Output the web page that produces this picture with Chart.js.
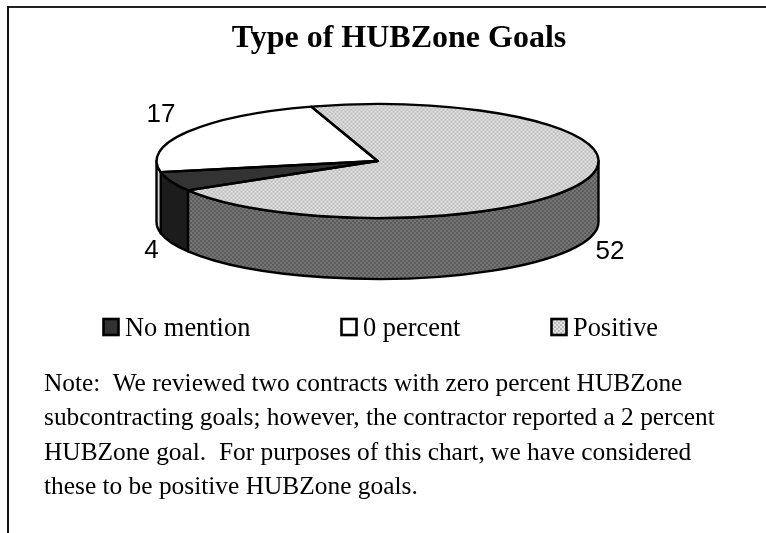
<!DOCTYPE html>
<html>
<head>
<meta charset="utf-8">
<title>Type of HUBZone Goals</title>
<script src="https://cdn.jsdelivr.net/npm/chart.js@4"></script>
<style>
  html, body { margin:0; padding:0; background:#fff; }
  body { width:766px; height:533px; position:relative; overflow:hidden; }
  #frameTop { position:absolute; left:7px; top:6px; right:0; height:2px; background:#222; }
  #frameLeft { position:absolute; left:7px; top:6px; bottom:0; width:2px; background:#111; }
  canvas { position:absolute; left:0; top:0; }
  #note { position:absolute; left:44px; top:365px; margin:0; color:#000;
          font:25.4px/34.4px "Liberation Serif", serif; white-space:pre; }
</style>
</head>
<body>
<canvas id="pie" width="766" height="533"></canvas>
<div id="frameTop"></div>
<div id="frameLeft"></div>
<p id="note"></p>
<script>
const titleText = 'Type of HUBZone Goals';
const categories = ['No mention', '0 percent', 'Positive'];
const values = [4, 17, 52];
const noteLines = [
  'Note:  We reviewed two contracts with zero percent HUBZone',
  'subcontracting goals; however, the contractor reported a 2 percent',
  'HUBZone goal.  For purposes of this chart, we have considered',
  'these to be positive HUBZone goals.'
];

document.getElementById('note').textContent = noteLines.join('\n');

// pie look
const rx = 221, ry = 57, cx = 377.5, cy = 161, depth = 61;
const squash = ry / rx;
const labelPos = [[151.5, 258], [161, 122], [610, 259]];
const legendPos = [102, 340, 550];
const legendBase = 336;

function dither(a, b, flatten){
  const c = document.createElement('canvas');
  c.width = c.height = 4;
  const g = c.getContext('2d');
  g.fillStyle = a; g.fillRect(0,0,4,4);
  g.fillStyle = b; g.fillRect(0,0,2,2); g.fillRect(2,2,2,2);
  const p = g.createPattern(c, 'repeat');
  if(flatten) p.setTransform(new DOMMatrix().scale(1, 1/flatten));
  return p;
}

const topFills = ['#333333', '#ffffff', dither('#e2e2e2', '#bdbdbd', squash)];
const sideFills = ['#1c1c1c', '#d8d8d8', dither('#747474', '#5c5c5c')];
const swatchFills = ['#333333', '#ffffff', dither('#e2e2e2', '#bdbdbd')];

// arc range as canvas angles around the ellipse
function outline(ctx, arc){
  const {startAngle:a0, endAngle:a1} = arc.getProps(['startAngle','endAngle']);
  ctx.beginPath();
  ctx.moveTo(cx, cy);
  ctx.ellipse(cx, cy, rx, ry, 0, a0, a1);
  ctx.closePath();
  ctx.stroke();
}

// walls are only seen where the rim faces down, 0..PI
function visibleRanges(a0, a1){
  const out = [];
  for(let k=-2;k<=2;k++){
    const s = Math.max(a0, k*2*Math.PI), e = Math.min(a1, k*2*Math.PI + Math.PI);
    if(e > s) out.push([s,e]);
  }
  return out;
}

const pie3d = {
  id:'pie3d',
  beforeDatasetsDraw(chart){
    const ctx = chart.ctx;
    const arcs = chart.getDatasetMeta(0).data;
    ctx.save();
    ctx.lineWidth = 2.4;
    ctx.strokeStyle = '#000';
    ctx.lineJoin = 'round';
    arcs.forEach((arc,i)=>{
      const {startAngle, endAngle} = arc.getProps(['startAngle','endAngle']);
      visibleRanges(startAngle, endAngle).forEach(([s,e])=>{
        ctx.beginPath();
        ctx.ellipse(cx, cy, rx, ry, 0, s, e);
        ctx.ellipse(cx, cy+depth, rx, ry, 0, e, s, true);
        ctx.closePath();
        ctx.fillStyle = sideFills[i];
        ctx.fill();
        ctx.stroke();
      });
    });
    ctx.restore();
    // library arcs get flattened into the ellipse
    const m = arcs[0].getProps(['x','y']);
    ctx.save();
    ctx.translate(cx, cy);
    ctx.scale(1, squash);
    ctx.translate(-m.x, -m.y);
  },
  afterDatasetsDraw(chart){
    const ctx = chart.ctx;
    ctx.restore();
    ctx.save();
    ctx.lineWidth = 2.4;
    ctx.strokeStyle = '#000';
    ctx.lineJoin = 'round';
    chart.getDatasetMeta(0).data.forEach(arc=>outline(ctx, arc));
    ctx.restore();
  },
  afterDraw(chart){
    const ctx = chart.ctx;
    ctx.save();
    // value labels
    ctx.font = '26px "Liberation Sans", sans-serif';
    ctx.fillStyle = '#000';
    ctx.textAlign = 'center';
    ctx.textBaseline = 'alphabetic';
    values.forEach((v,i)=>ctx.fillText(String(v), labelPos[i][0], labelPos[i][1]));
    // legend, columns are not even so the built in one does not fit
    ctx.font = '26.4px "Liberation Serif", serif';
    ctx.textAlign = 'left';
    categories.forEach((c,i)=>{
      const x = legendPos[i];
      ctx.fillStyle = swatchFills[i];
      ctx.fillRect(x+1.5, legendBase-17, 15, 16);
      ctx.lineWidth = 2.6;
      ctx.strokeStyle = '#000';
      ctx.strokeRect(x+1.5, legendBase-17, 15, 16);
      ctx.fillStyle = '#000';
      ctx.fillText(c, x+23, legendBase);
    });
    ctx.restore();
  }
};

new Chart(document.getElementById('pie'), {
  type:'pie',
  data:{
    labels:categories,
    datasets:[{
      data:values,
      backgroundColor:topFills,
      borderWidth:0,
      radius:rx,
      clip:false
    }]
  },
  options:{
    responsive:false,
    animation:false,
    rotation:239,
    events:[],
    layout:{padding:{left:32}},
    plugins:{
      legend:{display:false},
      tooltip:{enabled:false},
      title:{
        display:true,
        text:titleText,
        color:'#000',
        font:{family:'"Liberation Serif", serif', size:32, weight:'bold'},
        padding:{top:20, bottom:0}
      }
    }
  },
  plugins:[pie3d]
});
</script>
</body>
</html>
